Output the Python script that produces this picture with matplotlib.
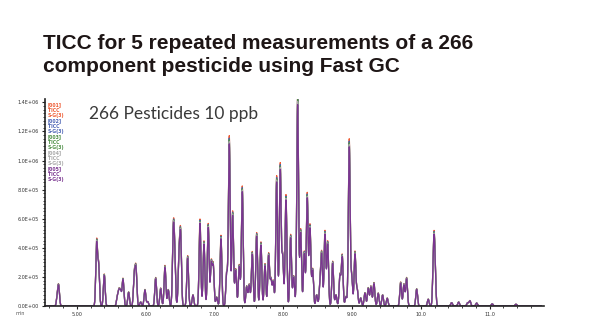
import matplotlib
matplotlib.use("Agg")
import matplotlib.pyplot as plt
from matplotlib.ticker import MultipleLocator, FixedLocator
import numpy as np

# peak apex retention times (min) and apex intensities
peak_rt = [
    4.714, 4.734, 5.286, 5.315, 5.397, 5.586, 5.610, 5.635, 5.669, 5.751,
    5.833, 5.858, 5.926, 5.988, 6.028, 6.144, 6.217, 6.279, 6.327, 6.400,
    6.420, 6.483, 6.507, 6.609, 6.686, 6.788, 6.846, 6.908, 6.952, 6.981,
    7.031, 7.093, 7.176, 7.214, 7.263, 7.307, 7.359, 7.403, 7.467, 7.504,
    7.548, 7.612, 7.674, 7.733, 7.786, 7.820, 7.853, 7.903, 7.955, 7.990,
    8.038, 8.106, 8.150, 8.208, 8.252, 8.304, 8.347, 8.387, 8.426, 8.484,
    8.532, 8.557, 8.605, 8.645, 8.717, 8.765, 8.823, 8.856, 8.910, 8.958,
    8.993, 9.041, 9.074, 9.124, 9.186, 9.234, 9.273, 9.317, 9.379, 9.443,
    9.510, 9.705, 9.753, 9.792, 9.938, 10.106, 10.185, 10.203, 10.446, 10.548,
    10.679, 10.712, 10.810, 11.036, 11.381,
]
peak_height = [
    60e3, 128e3, 431e3, 270e3, 213e3, 55e3, 98e3, 96e3, 183e3, 94e3,
    206e3, 247e3, 27e3, 110e3, 30e3, 190e3, 120e3, 270e3, 110e3, 468e3,
    316e3, 311e3, 472e3, 335e3, 75e3, 578e3, 433e3, 548e3, 290e3, 270e3,
    60e3, 470e3, 225e3, 1130e3, 632e3, 247e3, 275e3, 797e3, 133e3, 145e3,
    362e3, 488e3, 426e3, 282e3, 350e3, 179e3, 167e3, 866e3, 946e3, 339e3,
    740e3, 476e3, 201e3, 1404e3, 511e3, 364e3, 751e3, 540e3, 247e3, 76e3,
    133e3, 350e3, 500e3, 431e3, 298e3, 75e3, 208e3, 339e3, 64e3, 1107e3,
    201e3, 362e3, 110e3, 55e3, 89e3, 122e3, 133e3, 156e3, 87e3, 75e3,
    53e3, 160e3, 147e3, 189e3, 115e3, 46e3, 380e3, 259e3, 23e3, 27e3,
    22e3, 36e3, 20e3, 15e3, 12e3,
]

# the five repeated injections, drawn in this order (last on top)
run_names = ["[001]", "[002]", "[003]", "[004]", "[005]"]
run_colors = ["#ee5a32", "#4a62b4", "#4e8f46", "#a8a8a8", "#7a3590"]
run_scale = [1.035, 1.02, 1.01, 1.0, 0.985]

y_ticks = [0, 2e5, 4e5, 6e5, 8e5, 1.0e6, 1.2e6, 1.4e6]
y_tick_labels = ["0.0E+00", "2.0E+05", "4.0E+05", "6.0E+05", "8.0E+05",
                 "1.0E+06", "1.2E+06", "1.4E+06"]
x_ticks = [5, 6, 7, 8, 9, 10, 11]
x_tick_labels = ["5.00", "6.00", "7.00", "8.00", "9.00", "10.0", "11.0"]


def trace(t, scale, sigma=0.0125):
    y = np.zeros_like(t)
    for rt, h in zip(peak_rt, peak_height):
        y += h * scale * np.exp(-0.5 * ((t - rt) / sigma) ** 2)
    return y


fig = plt.figure(figsize=(6.07, 3.30), dpi=100)
ax = fig.add_axes([0.0741, 0.0727, 0.822, 0.626])

t = np.linspace(4.55, 11.75, 6000)
for name, color, sc in zip(run_names, run_colors, run_scale):
    ax.plot(t, trace(t, sc), color=color, lw=0.9, solid_joinstyle="round")

ax.set_xlim(4.535, 11.788)
ax.set_ylim(0, 1.42e6)

for side in ["top", "right"]:
    ax.spines[side].set_visible(False)
for side in ["left", "bottom"]:
    ax.spines[side].set_linewidth(1.2)
    ax.spines[side].set_color("#222222")

ax.yaxis.set_major_locator(FixedLocator(y_ticks))
ax.set_yticklabels(y_tick_labels)
ax.yaxis.set_minor_locator(MultipleLocator(2.5e4))
ax.xaxis.set_major_locator(FixedLocator(x_ticks))
ax.set_xticklabels(x_tick_labels)
ax.xaxis.set_minor_locator(MultipleLocator(0.2))
ax.tick_params(axis="both", which="major", labelsize=3.5, length=2.5, width=0.8,
               color="#222222", labelcolor="#333333", pad=2)
ax.tick_params(axis="both", which="minor", length=1.5, width=0.6, color="#222222")

fig.text(0.025, 0.045, "min", fontsize=3.5, color="#555555")

# legend text block in upper left corner
legend_lines = []
for name, color in zip(run_names, run_colors):
    legend_lines += [(name, color), ("TICC", color), ("S-G(3)", color)]
for i, (txt, color) in enumerate(legend_lines):
    ax.text(0.006, 0.985 - i * 0.0257, txt, transform=ax.transAxes, fontsize=3.3,
            color=color, fontweight="bold", va="top", ha="left")

ax.text(0.089, 0.93, "266 Pesticides 10 ppb", transform=ax.transAxes,
        fontsize=12.5, color="#3a3a3a", family="Lato", fontweight="normal",
        va="center", ha="left")

fig.text(0.071, 0.898, "TICC for 5 repeated measurements of a 266\ncomponent pesticide using Fast GC",
         fontsize=15, fontweight="bold", color="#1e1616", family="Liberation Sans",
         linespacing=1.32, va="top", ha="left")

fig.savefig("out.png", dpi=100)
